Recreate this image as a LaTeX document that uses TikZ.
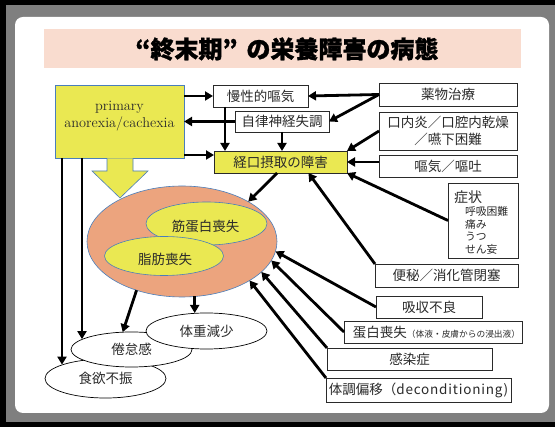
\documentclass[tikz,border=0pt]{standalone}
\usepackage{fontspec}
\newfontfamily\jp{Noto Sans CJK JP}
\usetikzlibrary{arrows.meta,shapes.geometric,calc}
\definecolor{yel}{HTML}{EAE852}
\definecolor{edgeblue}{HTML}{4A7EBB}
\definecolor{salmon}{HTML}{ECA47E}
\definecolor{band}{HTML}{F9DCCF}
\definecolor{framegray}{HTML}{7F7F7F}
\definecolor{ink}{HTML}{2A2A2A}
\begin{document}
\begin{tikzpicture}[x=1pt,y=-1pt,
  jpfont/.style={font=\jp\fontsize{13.5}{17}\selectfont},
  box/.style={draw=ink, line width=0.8pt, fill=white, inner sep=0pt, outer sep=0pt, jpfont, text=ink, align=center},
  ybox/.style={box, fill=yel},
  oval/.style={ellipse, draw=black, line width=0.7pt, fill=white, inner sep=0pt, outer sep=0pt, jpfont, text=ink},
  yoval/.style={ellipse, draw=edgeblue, line width=0.6pt, fill=yel, inner sep=0pt, outer sep=0pt, jpfont, text=ink},
  arr/.style={line width=2.8pt, black, -{Triangle[length=8pt,width=9pt]}},
  txt/.style={inner sep=0pt, outer sep=0pt, text=ink}
]
\useasboundingbox (0,0) rectangle (555,427);
% frame
\fill[black] (0,0) rectangle (555,427);
\fill[framegray] (6,5) rectangle (555,422);
\fill[white, rounded corners=8pt] (15,17) rectangle (549,413);
% title
\fill[band] (44,29) rectangle (521,68);
\node[txt, text=black, font=\jp\bfseries\addfontfeatures{FakeBold=1.2}\fontsize{24}{24}\selectfont] (title) at (282.5,49) {\makebox[24pt][r]{“}終末期\makebox[24pt][l]{”}の栄養障害の病態};

% primary box
\node[ybox, draw=edgeblue, line width=0.6pt, minimum width=129, minimum height=73] (primary) at (119.5,121.5) {};
\node[txt, font=\fontsize{14.3}{17}\selectfont, align=center] (primarytext) at (119.5,116) {primary\\anorexia/cachexia};

% upper boxes
\node[box, minimum width=95, minimum height=22] (chronic) at (260.5,96) {慢性的嘔気};
\node[box, minimum width=94, minimum height=21] (autonomic) at (282,121.5) {自律神経失調};
\node[ybox, minimum width=133, minimum height=22] (intake) at (280.5,162) {経口摂取の障害};
\node[box, minimum width=138, minimum height=23] (drug) at (448,94.5) {薬物治療};
\node[box, minimum width=138, minimum height=38] (stomatitis) at (448,131) {口内炎／口腔内乾燥\\／嚥下困難};
\node[box, minimum width=138, minimum height=22] (vomit) at (448,166) {嘔気／嘔吐};
\node[box, minimum width=70, minimum height=75] (symptoms) at (483,220.5) {};
\node[txt, anchor=west, font=\jp\fontsize{14}{16}\selectfont] (sym0) at (454,197) {症状};
\node[txt, anchor=west, font=\jp\fontsize{10.8}{12}\selectfont] (sym1) at (465,211) {呼吸困難};
\node[txt, anchor=west, font=\jp\fontsize{10.8}{12}\selectfont] (sym2) at (465,224) {痛み};
\node[txt, anchor=west, font=\jp\fontsize{10.8}{12}\selectfont] (sym3) at (465,237) {うつ};
\node[txt, anchor=west, font=\jp\fontsize{10.8}{12}\selectfont] (sym4) at (465,249.5) {せん妄};

% lower boxes
\node[box, minimum width=143, minimum height=23] (constipation) at (446.5,275.5) {便秘／消化管閉塞};
\node[box, minimum width=106, minimum height=22] (absorb) at (429,307) {吸収不良};
\node[box, minimum width=178, minimum height=22] (protein) at (433,332) {};
\node[txt, jpfont] (proteintext) at (436.5,332) {蛋白喪失{\fontsize{8.7}{10}\selectfont（体液・皮膚からの浸出液）}};
\node[box, minimum width=165, minimum height=22] (infection) at (409.5,359) {感染症};
\node[box, minimum width=185, minimum height=24] (recond) at (418.5,390) {};
\node[txt, jpfont] (recondtext) at (418.5,390) {体調偏移（\addfontfeatures{LetterSpace=6}deconditioning)};

% big ellipse
\node[ellipse, draw=edgeblue, line width=0.6pt, fill=salmon, inner sep=0pt, outer sep=0pt, minimum width=190, minimum height=111] (big) at (182,241.5) {};
\node[yoval, minimum width=121, minimum height=43] (muscle) at (206.5,223.5) {};
\node[txt, jpfont] (muscletext) at (205.5,226) {筋蛋白喪失};
\node[yoval, minimum width=119, minimum height=39] (fat) at (164,256) {};
\node[txt, jpfont] (fattext) at (165,259) {脂肪喪失};

% big block arrow
\filldraw[fill=yel, draw=edgeblue, line width=0.6pt] (107,158.5) -- (107,171) -- (92,171) -- (120,198) -- (148,171) -- (133,171) -- (133,158.5);

% bottom ellipses
\node[oval, minimum width=121, minimum height=39] (anorexia) at (105.5,378.5) {食欲不振};
\node[oval, minimum width=121, minimum height=35] (fatigue) at (131.5,349.5) {倦怠感};
\node[oval, minimum width=121, minimum height=36] (weight) at (206.5,331) {体重減少};

% arrows top
\draw[arr] (chronic.west -| primary.east) -- (chronic.west);
\draw[arr] (autonomic.west) -- (autonomic.west -| primary.east);
\draw[arr] ([yshift=7pt]intake.west -| primary.east) -- ([yshift=7pt]intake.west);
\draw[arr] ([xshift=12pt]chronic.south west) -- ([xshift=12pt]chronic.south west |- intake.north);
\draw[arr] (autonomic.south) -- (autonomic.south |- intake.north);
\draw[arr] (drug.west) -- (chronic.east);
\draw[arr] (drug.west) -- (autonomic.east);
\draw[arr] (stomatitis.west) -- (intake.north east);
\draw[arr] (intake.east -| vomit.west) -- (intake.east);
\draw[arr] (symptoms.west) -- (intake.south east);
\draw[arr] (constipation.north west) -- ($(intake.south west)!0.71!(intake.south east)$);
\draw[arr] ($(intake.south west)!0.475!(intake.south east)$) -- (big.31);
% arrows into big ellipse
\draw[arr] (absorb.west) -- (big.-6);
\draw[arr] (protein.west) -- (big.-12);
\draw[arr] (infection.north west) -- (big.-21);
\draw[arr] (recond.north west) -- (big.-30);
% arrows down
\draw[arr] (big.-133) -- (fatigue.117);
\draw[arr] (big.-77) -- (big.-77 |- weight.north);
\draw[arr] ([xshift=7pt]primary.south west) -- ([xshift=7pt]primary.south west |- anorexia.162);
\draw[arr] ([xshift=27pt]primary.south west) -- ([xshift=27pt]primary.south west |- fatigue.168);
\end{tikzpicture}
\end{document}
